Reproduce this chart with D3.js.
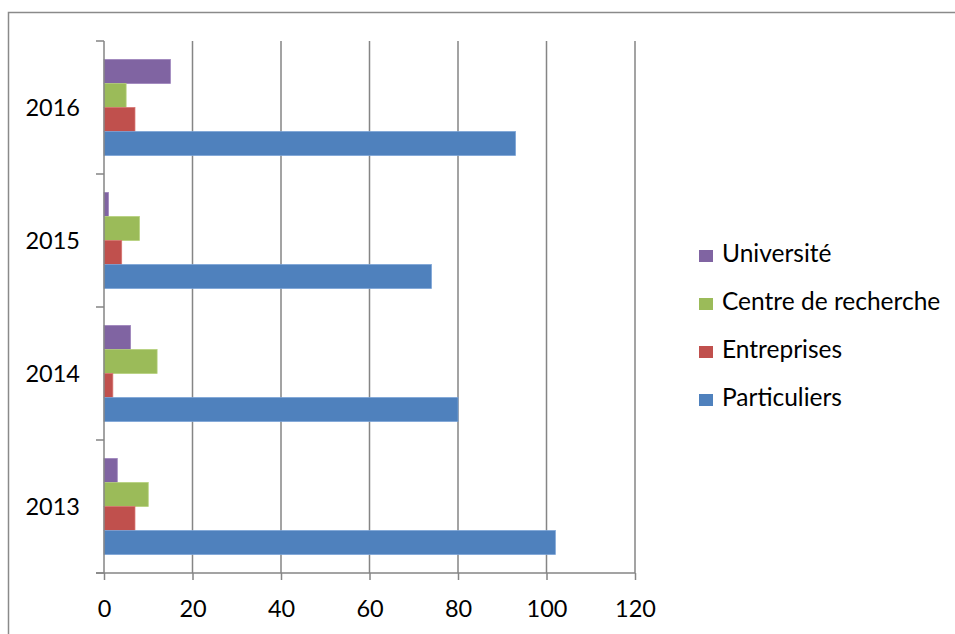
<!DOCTYPE html>
<html>
<head>
<meta charset="utf-8">
<script src="https://cdn.jsdelivr.net/npm/d3@7"></script>
<style>
  body { margin: 0; background: #fff; }
  text { font-family: Lato, "Open Sans", sans-serif; fill: #000; }
</style>
</head>
<body>
<div id="chart"></div>
<script>
// data
var years = ["2013", "2014", "2015", "2016"];
var seriesNames = ["Université", "Centre de recherche", "Entreprises", "Particuliers"];
var universite = [3, 6, 1, 15];
var centreRecherche = [10, 12, 8, 5];
var entreprises = [7, 2, 4, 7];
var particuliers = [102, 80, 74, 93];
var xTicks = [0, 20, 40, 60, 80, 100, 120];
var colors = ["#8064A2", "#9BBB59", "#C0504D", "#4F81BD"];
var strokes = ["#9a80bb", "#b4d07a", "#d87370", "#7aa3d6"];

var seriesValues = [universite, centreRecherche, entreprises, particuliers];

var width = 955, height = 634;
var plotLeft = 104, plotRight = 635, plotTop = 41, plotBottom = 573;
var gridColor = "#858585";

var svg = d3.select("#chart").append("svg")
    .attr("xmlns", "http://www.w3.org/2000/svg")
    .attr("width", width)
    .attr("height", height);

//outer frame of the chart area (runs off the right and bottom)
svg.append("rect")
    .attr("x", 8.5).attr("y", 12.5)
    .attr("width", 1000).attr("height", 700)
    .style("fill", "none").style("stroke", "#8a8a8a").style("stroke-width", 1.5);

var x = d3.scaleLinear().domain([0, 120]).range([plotLeft, plotRight]);

//2016 on top
var y0 = d3.scaleBand().domain(years.slice().reverse()).range([plotTop, plotBottom]).padding(0);
var y1 = d3.scaleBand().domain(seriesNames).range([0, y0.bandwidth()])
    .paddingInner(0).paddingOuter(0.77);

//vertical gridlines
svg.append("g").selectAll("line")
    .data(xTicks.slice(1))
    .enter().append("line")
    .attr("x1", function(d){ return x(d); })
    .attr("x2", function(d){ return x(d); })
    .attr("y1", plotTop).attr("y2", plotBottom)
    .style("stroke", gridColor).style("stroke-width", 1.5);

//bars
var groups = svg.append("g").selectAll("g.year")
    .data(years)
    .enter().append("g")
    .attr("class", "year")
    .attr("transform", function(d){ return "translate(0," + y0(d) + ")"; });

groups.selectAll("rect")
    .data(function(d, i){
        return seriesNames.map(function(s, j){ return {name: s, value: seriesValues[j][i], k: j}; });
    })
    .enter().append("rect")
    .attr("x", x(0))
    .attr("y", function(d){ return y1(d.name); })
    .attr("width", function(d){ return x(d.value) - x(0); })
    .attr("height", y1.bandwidth())
    .style("fill", function(d){ return colors[d.k]; })
    .style("stroke", function(d){ return strokes[d.k]; })
    .style("stroke-width", 0.75);

//bottom axis
var xAxis = d3.axisBottom(x).tickValues(xTicks).tickSize(7).tickPadding(20);
var gx = svg.append("g")
    .attr("transform", "translate(0," + plotBottom + ")")
    .call(xAxis);
gx.select(".domain").attr("d", "M" + (plotLeft - 8) + ",0H" + plotRight).style("stroke", gridColor).style("stroke-width", 1.5);
gx.selectAll(".tick line").style("stroke", gridColor).style("stroke-width", 1.5);
gx.selectAll(".tick text").style("font-size", "23.5px").style("font-family", "Lato").attr("fill", "#000");

//left axis: line and ticks at band boundaries
var gy = svg.append("g");
gy.append("line")
    .attr("x1", plotLeft).attr("x2", plotLeft).attr("y1", plotTop).attr("y2", plotBottom)
    .style("stroke", gridColor).style("stroke-width", 1.5);
gy.selectAll("line.tk")
    .data(years.slice().reverse().concat(["end"]))
    .enter().append("line")
    .attr("class", "tk")
    .attr("x1", plotLeft - 8).attr("x2", plotLeft)
    .attr("y1", function(d){ return d === "end" ? plotBottom : y0(d); })
    .attr("y2", function(d){ return d === "end" ? plotBottom : y0(d); })
    .style("stroke", gridColor).style("stroke-width", 1.5);
gy.selectAll("text")
    .data(years)
    .enter().append("text")
    .attr("x", 80).attr("text-anchor", "end")
    .attr("y", function(d){ return y0(d) + y0.bandwidth() / 2; })
    .attr("dy", "0.36em")
    .style("font-size", "23.5px")
    .text(function(d){ return d; });

//legend
var legend = svg.append("g").selectAll("g.leg")
    .data(seriesNames)
    .enter().append("g")
    .attr("class", "leg")
    .attr("transform", function(d, i){ return "translate(699," + (262 + i * 48) + ")"; });
legend.append("rect")
    .attr("x", 0).attr("y", -12).attr("width", 14).attr("height", 12)
    .style("fill", function(d, i){ return colors[i]; });
legend.append("text")
    .attr("x", 23).attr("y", 0)
    .style("font-size", "24.5px")
    .text(function(d){ return d; });
</script>
</body>
</html>
